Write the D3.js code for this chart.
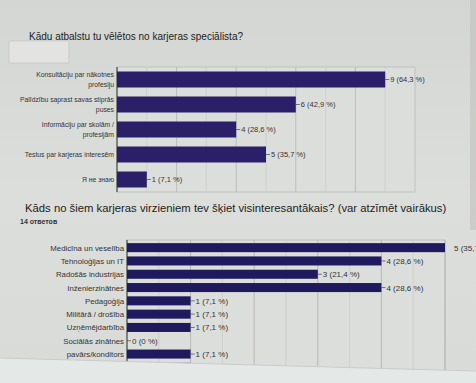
<!DOCTYPE html>
<html><head><meta charset="utf-8">
<script src="https://cdn.jsdelivr.net/npm/d3@7"></script>
<style>html,body{margin:0;padding:0;background:#d9dbd8;}svg{display:block;font-family:"Liberation Sans",Arial,sans-serif;}</style>
</head><body>
<script>
const title1 = "Kādu atbalstu tu vēlētos no karjeras speciālista?";
const cats1 = ["Konsultāciju par nākotnes\nprofesiju","Palīdzību saprast savas stiprās\npuses","Informāciju par skolām /\nprofesijām","Testus par karjeras interesēm","Я не знаю"];
const vals1 = [9,6,4,5,1];
const labels1 = ["9 (64,3 %)","6 (42,9 %)","4 (28,6 %)","5 (35,7 %)","1 (7,1 %)"];

const title2 = "Kāds no šiem karjeras virzieniem tev šķiet visinteresantākais? (var atzīmēt vairākus)";
const sub2 = "14 ответов";
const cats2 = ["Medicīna un veselība","Tehnoloģijas un IT","Radošās industrijas","Inženierzinātnes","Pedagoģija","Militārā / drošība","Uzņēmējdarbība","Sociālās zinātnes","pavārs/konditors","…"];
const vals2 = [5,4,3,4,1,1,1,0,1,1];
const labels2 = ["5 (35,7 %)","4 (28,6 %)","3 (21,4 %)","4 (28,6 %)","1 (7,1 %)","1 (7,1 %)","1 (7,1 %)","0 (0 %)","1 (7,1 %)","1 (7,1 %)"];

const W=476,H=383, barColor="#2b1f6a";
const svg=d3.select("body").append("svg").attr("width",W).attr("height",H);
const defs=svg.append("defs");
const g=defs.append("linearGradient").attr("id","bg").attr("x1",0).attr("y1",0).attr("x2",0).attr("y2",1);
g.append("stop").attr("offset","0").attr("stop-color","#d4d6d3");
g.append("stop").attr("offset","0.5").attr("stop-color","#dcdedb");
g.append("stop").attr("offset","1").attr("stop-color","#d9dbd8");
svg.append("rect").attr("width",W).attr("height",H).attr("fill","url(#bg)");

// sticky note
svg.append("rect").attr("x",9).attr("y",41).attr("width",60).attr("height",22).attr("fill","#e3e4e1").attr("stroke","#c4c5c2").attr("stroke-width",0.8);

svg.append("text").attr("x",29).attr("y",40).attr("font-size",10).attr("fill","#222").text(title1);

// ---- chart 1
const x1=d3.scaleLinear().domain([0,10]).range([117,415]);
const y1=d3.scaleBand().domain(cats1).range([67,192]).paddingInner(0.36).paddingOuter(0.18);
const c1=svg.append("g");
c1.append("rect").attr("x",117).attr("y",67).attr("width",298).attr("height",125).attr("fill","#dcdedb").attr("stroke","#b9bbb8").attr("stroke-width",0.8);
c1.selectAll("line.grid").data(d3.range(1,10)).join("line")
  .attr("x1",d=>x1(d)).attr("x2",d=>x1(d)).attr("y1",67).attr("y2",192)
  .attr("stroke",d=>d%2===0?"#b3b5b2":"#cbcdca").attr("stroke-width",0.8);
c1.append("line").attr("x1",117).attr("x2",117).attr("y1",67).attr("y2",192).attr("stroke","#333").attr("stroke-width",1);
c1.selectAll("rect.bar").data(vals1).join("rect").attr("class","bar")
  .attr("x",x1(0)).attr("y",(d,i)=>y1(cats1[i])).attr("width",d=>x1(d)-x1(0)).attr("height",y1.bandwidth()).attr("fill",barColor);
c1.selectAll("line.lead").data(vals1).join("line")
  .attr("x1",d=>x1(d)).attr("x2",d=>x1(d)+4).attr("y1",(d,i)=>y1(cats1[i])+y1.bandwidth()/2).attr("y2",(d,i)=>y1(cats1[i])+y1.bandwidth()/2).attr("stroke","#444").attr("stroke-width",0.7);
c1.selectAll("text.val").data(vals1).join("text")
  .attr("x",d=>x1(d)+5).attr("y",(d,i)=>y1(cats1[i])+y1.bandwidth()/2+2.5).attr("font-size",7.5).attr("fill","#333").text((d,i)=>labels1[i]);
cats1.forEach(c=>{
  const lines=c.split("\n"); const cy=y1(c)+y1.bandwidth()/2;
  const t=c1.append("text").attr("text-anchor","end").attr("font-size",6.8).attr("fill","#333");
  lines.forEach((l,j)=>t.append("tspan").attr("x",114).attr("y",cy+2.3+(j-(lines.length-1)/2)*10).text(l));
});

// ---- chart 2
svg.append("text").attr("x",25).attr("y",212).attr("font-size",11.3).attr("fill","#222").text(title2);
svg.append("text").attr("x",20).attr("y",224).attr("font-size",7).attr("font-weight","bold").attr("fill","#333").text(sub2);

const x2=d3.scaleLinear().domain([0,5]).range([127,445]);
const y2=d3.scaleBand().domain(cats2).range([241,374]).paddingInner(0.32).paddingOuter(0.16);
const c2=svg.append("g");
c2.append("rect").attr("x",127).attr("y",240).attr("width",318).attr("height",143).attr("fill","#dcdedb").attr("stroke","#b9bbb8").attr("stroke-width",0.8);
c2.selectAll("line.grid").data(d3.range(0.5,5.01,0.5)).join("line")
  .attr("x1",d=>x2(d)).attr("x2",d=>x2(d)).attr("y1",240).attr("y2",383)
  .attr("stroke",d=>Number.isInteger(d)?"#aeb0ad":"#c9cbc8").attr("stroke-width",0.8);
c2.append("line").attr("x1",127).attr("x2",127).attr("y1",240).attr("y2",383).attr("stroke","#333").attr("stroke-width",1);
c2.selectAll("rect.bar").data(vals2).join("rect").attr("class","bar")
  .attr("x",x2(0)).attr("y",(d,i)=>y2(cats2[i])).attr("width",d=>x2(d)-x2(0)).attr("height",y2.bandwidth()).attr("fill","#1f1a5e");
c2.selectAll("line.lead").data(vals2).join("line")
  .attr("x1",d=>x2(d)).attr("x2",d=>x2(d)+4).attr("y1",(d,i)=>y2(cats2[i])+y2.bandwidth()/2).attr("y2",(d,i)=>y2(cats2[i])+y2.bandwidth()/2)
  .attr("stroke",(d,i)=>i===0?"none":"#444").attr("stroke-width",0.7);
c2.selectAll("text.val").data(vals2).join("text")
  .attr("x",(d,i)=>x2(d)+(i===0?9:5)).attr("y",(d,i)=>y2(cats2[i])+y2.bandwidth()/2+3).attr("font-size",8).attr("fill","#333").text((d,i)=>labels2[i]);
c2.selectAll("text.cat").data(cats2).join("text")
  .attr("x",124).attr("y",d=>y2(d)+y2.bandwidth()/2+3).attr("text-anchor","end").attr("font-size",7.8).attr("fill","#333").text(d=>d);

// overlapping paper at the bottom
svg.append("polygon").attr("points","0,358 476,371 476,383 0,383").attr("fill","#e4e8e6");
svg.append("line").attr("x1",0).attr("y1",358).attr("x2",476).attr("y2",371).attr("stroke","#c8ccca").attr("stroke-width",1);
// right edge shadow
svg.append("rect").attr("x",470).attr("y",0).attr("width",6).attr("height",230).attr("fill","#bfc1be").attr("opacity",0.6);
</script>
</body></html>
